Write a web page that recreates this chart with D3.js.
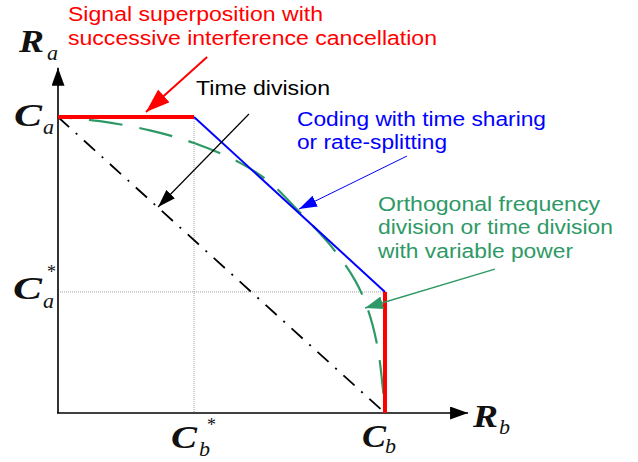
<!DOCTYPE html>
<html>
<head>
<meta charset="utf-8">
<script src="https://cdn.jsdelivr.net/npm/d3@7"></script>
<style>
  html, body { margin: 0; padding: 0; background: #fff; }
  svg { display: block; }
</style>
</head>
<body>
<script>
// Two-user capacity region: rates normalised to single-user capacities (Ca = Cb = 1)
const capacityA = 1;
const capacityB = 1;
const capacityAStar = 0.409;   // Ca*
const capacityBStar = 0.416;   // Cb*

// Time division: straight line between the single-user corner points
const timeDivRb = [0, capacityB];
const timeDivRa = [capacityA, 0];

// Coding with time sharing / rate splitting (dominant face of the pentagon)
const codingRb = [capacityBStar, capacityB];
const codingRa = [capacityA, capacityAStar];

// Signal superposition with SIC: the two axis-parallel edges
const sicTopRb = [0, capacityBStar];
const sicTopRa = [capacityA, capacityA];
const sicSideRb = [capacityB, capacityB];
const sicSideRa = [capacityAStar, 0];

// Orthogonal frequency / time division with variable power
const ofdmRb = [0, 0.128, 0.281, 0.416, 0.557, 0.650, 0.734, 0.832, 0.908, 0.945, 0.976, 0.994, 1];
const ofdmRa = [1, 0.986, 0.955, 0.912, 0.845, 0.777, 0.684, 0.568, 0.449, 0.358, 0.230, 0.078, 0];

const W = 638, H = 462;
const svg = d3.select("body").append("svg").attr("width", W).attr("height", H);

const x = d3.scaleLinear().domain([0, 1]).range([58, 385]);
const y = d3.scaleLinear().domain([0, 1]).range([413, 117]);

const line = d3.line().x(d => x(d[0])).y(d => y(d[1]));
const zipPts = (a, b) => a.map((v, i) => [v, b[i]]);

// arrowhead markers
const defs = svg.append("defs");
function marker(id, color, len, wid) {
  defs.append("marker")
    .attr("id", id)
    .attr("markerUnits", "userSpaceOnUse")
    .attr("viewBox", `0 ${-wid / 2} ${len} ${wid}`)
    .attr("refX", len).attr("refY", 0)
    .attr("markerWidth", len).attr("markerHeight", wid)
    .attr("orient", "auto")
    .append("path")
    .attr("d", `M0,${-wid / 2}L${len},0L0,${wid / 2}Z`)
    .attr("fill", color);
}
marker("ax", "#000", 18, 13);
marker("red", "#ff0000", 24, 17);
marker("blk", "#000", 18, 12);
marker("blu", "#0000ff", 18, 12);
marker("grn", "#2e9966", 18, 13);

// reference guide lines for Ca* and Cb*
svg.append("line")
  .attr("x1", x(0)).attr("x2", x(capacityB))
  .attr("y1", y(capacityAStar)).attr("y2", y(capacityAStar))
  .attr("stroke", "#a0a0a0").attr("stroke-width", 1).attr("stroke-dasharray", "1,1");
svg.append("line")
  .attr("x1", x(capacityBStar)).attr("x2", x(capacityBStar))
  .attr("y1", y(capacityA)).attr("y2", y(0))
  .attr("stroke", "#a0a0a0").attr("stroke-width", 1).attr("stroke-dasharray", "1,1");

// axes with arrowheads
svg.append("line")
  .attr("x1", x(0)).attr("y1", y(0)).attr("x2", x(0)).attr("y2", y(1.166))
  .attr("stroke", "#333").attr("stroke-width", 2).attr("marker-end", "url(#ax)");
svg.append("line")
  .attr("x1", x(0) - 1).attr("y1", y(0)).attr("x2", x(1.254)).attr("y2", y(0))
  .attr("stroke", "#000").attr("stroke-width", 1.6).attr("marker-end", "url(#ax)");

// time division
svg.append("path")
  .attr("d", line(zipPts(timeDivRb, timeDivRa)))
  .attr("fill", "none").attr("stroke", "#000").attr("stroke-width", 1.8)
  .attr("stroke-dasharray", "15,9,2,9");

// OFDM / variable power curve
svg.append("path")
  .attr("d", d3.line().x(d => x(d[0])).y(d => y(d[1])).curve(d3.curveCatmullRom.alpha(0.5))(zipPts(ofdmRb, ofdmRa)))
  .attr("fill", "none").attr("stroke", "#2e9966").attr("stroke-width", 2.2)
  .attr("stroke-dasharray", "34,17").attr("stroke-dashoffset", 20);

// coding with time sharing
svg.append("path")
  .attr("d", line(zipPts(codingRb, codingRa)))
  .attr("fill", "none").attr("stroke", "#0000ff").attr("stroke-width", 2);

// SIC edges
svg.append("path")
  .attr("d", line(zipPts(sicTopRb, sicTopRa)))
  .attr("fill", "none").attr("stroke", "#ff0000").attr("stroke-width", 4);
svg.append("path")
  .attr("d", line(zipPts(sicSideRb, sicSideRa)))
  .attr("fill", "none").attr("stroke", "#ff0000").attr("stroke-width", 4);

// annotation pointers (in rate units)
const pointers = [
  { from: [0.456, 1.203], to: [0.269, 1.017], color: "#ff0000", w: 2, m: "red" },
  { from: [0.584, 1.010], to: [0.306, 0.696], color: "#000", w: 1.2, m: "blk" },
  { from: [1.067, 0.868], to: [0.737, 0.689], color: "#0000ff", w: 1, m: "blu" },
  { from: [1.336, 0.486], to: [0.939, 0.355], color: "#2e9966", w: 1.5, m: "grn" }
];
svg.selectAll("line.ptr").data(pointers).join("line")
  .attr("class", "ptr")
  .attr("x1", d => x(d.from[0])).attr("y1", d => y(d.from[1]))
  .attr("x2", d => x(d.to[0])).attr("y2", d => y(d.to[1]))
  .attr("stroke", d => d.color).attr("stroke-width", d => d.w)
  .attr("marker-end", d => `url(#${d.m})`);

// callout text
const sans = "'Liberation Sans', Arial, sans-serif";
const callouts = [
  { t: "Signal superposition with", x: 68, y: 21, w: 255, c: "#ff0000" },
  { t: "successive interference cancellation", x: 68, y: 45, w: 369, c: "#ff0000" },
  { t: "Time division", x: 196, y: 95, w: 134, c: "#000" },
  { t: "Coding with time sharing", x: 297, y: 126, w: 249, c: "#0000ff" },
  { t: "or rate-splitting", x: 297, y: 149, w: 150, c: "#0000ff" },
  { t: "Orthogonal frequency", x: 378, y: 211, w: 222, c: "#2e9966" },
  { t: "division or time division", x: 378, y: 234, w: 235, c: "#2e9966" },
  { t: "with variable power", x: 378, y: 258, w: 195, c: "#2e9966" }
];
svg.selectAll("text.callout").data(callouts).join("text")
  .attr("class", "callout")
  .attr("x", d => d.x).attr("y", d => d.y)
  .attr("textLength", d => d.w).attr("lengthAdjust", "spacingAndGlyphs")
  .attr("font-family", sans).attr("font-size", 19.5)
  .attr("fill", d => d.c)
  .text(d => d.t);

// math labels: main symbol, subscript and optional star (absolute positions)
const serif = "'Liberation Serif', 'Times New Roman', serif";
const mathLabels = [
  { main: "R", mx: 19, my: 52, mw: 25, sub: "a", sx: 47, sy: 60, star: null },
  { main: "C", mx: 14, my: 126, mw: 28, sub: "a", sx: 43, sy: 134, star: null },
  { main: "C", mx: 13, my: 299, mw: 29, sub: "a", sx: 43, sy: 308, star: [47, 278] },
  { main: "C", mx: 171, my: 448, mw: 26, sub: "b", sx: 199, sy: 456, star: [207, 431] },
  { main: "C", mx: 362, my: 447, mw: 24, sub: "b", sx: 385, sy: 453, star: null },
  { main: "R", mx: 473, my: 427, mw: 25, sub: "b", sx: 499, sy: 434, star: null }
];
const ml = svg.selectAll("g.math").data(mathLabels).join("g").attr("class", "math");
ml.append("text")
  .attr("x", d => d.mx).attr("y", d => d.my)
  .attr("textLength", d => d.mw).attr("lengthAdjust", "spacingAndGlyphs")
  .attr("font-family", serif).attr("font-size", 31).attr("font-style", "italic").attr("font-weight", "bold")
  .attr("fill", "#111").text(d => d.main);
ml.append("text")
  .attr("x", d => d.sx).attr("y", d => d.sy)
  .attr("font-family", serif).attr("font-size", 22).attr("font-style", "italic")
  .attr("fill", "#111").text(d => d.sub);
ml.filter(d => d.star).append("text")
  .attr("x", d => d.star[0]).attr("y", d => d.star[1])
  .attr("font-family", serif).attr("font-size", 18)
  .attr("fill", "#111").text("*");
</script>
</body>
</html>
